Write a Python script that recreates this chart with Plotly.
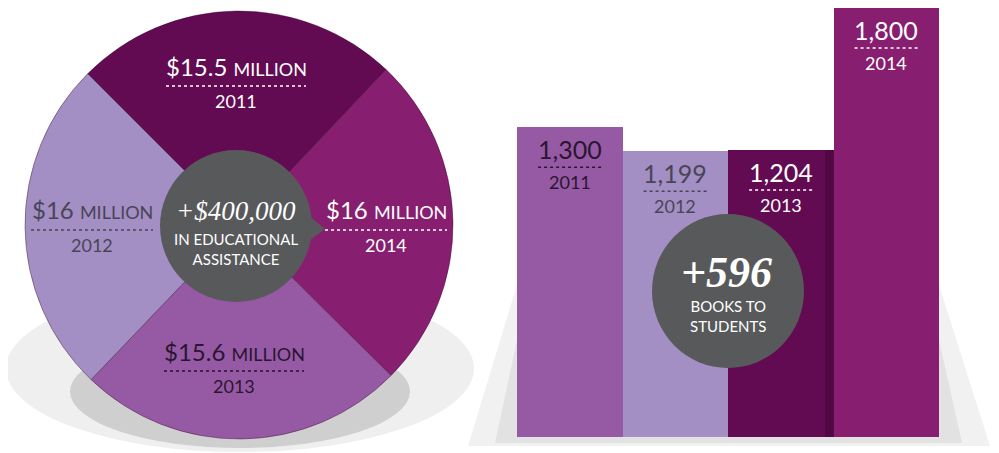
import plotly.graph_objects as go

# the page puts the figure 8px in from the top-left corner
OFF = 8
W, H = 999 - OFF, 453 - OFF

# left: educational assistance per year (millions of dollars), clockwise from the top
aid_years = ['2011', '2014', '2013', '2012']
aid_values = [15.5, 16, 15.6, 16]
aid_total = '+$400,000'

# right: books to students per year
book_years = ['2011', '2012', '2013', '2014']
book_values = [1300, 1199, 1204, 1800]
book_total = '+596'

year_colors = {'2011': '#620A52', '2012': '#A38FC3', '2013': '#965AA5', '2014': '#871E70'}
pie_text_colors = {'2011': 'white', '2012': '#4A4458', '2013': '#2A1630', '2014': 'white'}
book_colors = ['#965AA5', '#A38FC3', '#620A52', '#871E70']
book_text_colors = ['#2A1630', '#4A4458', 'white', 'white']
GRAY = '#58595B'
SANS = 'Lato'
SERIF = 'Liberation Serif'


def px(x):
    return (x - OFF) / W


def py(y):
    return 1 - (y - OFF) / H


fig = go.Figure()

fig.add_trace(go.Pie(
    labels=aid_years,
    values=aid_values,
    sort=False,
    direction='clockwise',
    rotation=-45,
    textinfo='none',
    hoverinfo='label+value',
    marker=dict(colors=[year_colors[y] for y in aid_years],
                line=dict(color='rgba(50,0,40,0.4)', width=1)),
    domain=dict(x=[px(24), px(454)], y=[py(439), py(11)]),
    showlegend=False,
))

fig.add_trace(go.Bar(
    x=book_years,
    y=book_values,
    marker=dict(color=book_colors, line=dict(width=0)),
    width=1,
    hoverinfo='x+y',
    showlegend=False,
))

shapes = []
annotations = []

# shadows under the pie and the bars
shapes.append(dict(type='circle', layer='below', xref='paper', yref='paper',
                   x0=px(6), x1=px(474), y0=py(452), y1=py(285),
                   fillcolor='#EFEFEF', line_width=0))
shapes.append(dict(type='circle', layer='below', xref='paper', yref='paper',
                   x0=px(70), x1=px(410), y0=py(448), y1=py(335),
                   fillcolor='#CFCFCF', line_width=0))
shapes.append(dict(type='path', layer='below', xref='paper', yref='paper',
                   path=f'M {px(468)},{py(446)} L {px(517)},{py(285)} L {px(939)},{py(285)} '
                        f'L {px(990)},{py(446)} Z',
                   fillcolor='#F1F1F1', line_width=0))
shapes.append(dict(type='path', layer='below', xref='paper', yref='paper',
                   path=f'M {px(495)},{py(443)} L {px(517)},{py(340)} L {px(939)},{py(340)} '
                        f'L {px(962)},{py(443)} Z',
                   fillcolor='#E2E2E2', line_width=0))

# shade on the right edge of the 2013 bar
shapes.append(dict(type='rect', xref='x', yref='y', x0=2.42, x1=2.5, y0=0, y1=book_values[2],
                   fillcolor='rgba(30,0,25,0.25)', line_width=0))

# centre bubble of the pie
cx, cy = 236, 226
shapes.append(dict(type='path', xref='paper', yref='paper', xsizemode='pixel', ysizemode='pixel',
                   xanchor=px(cx), yanchor=py(cy),
                   path='M 66,16 L 89,-3 L 66,-20 Z', fillcolor=GRAY, line_width=0))
shapes.append(dict(type='circle', xref='paper', yref='paper', xsizemode='pixel', ysizemode='pixel',
                   xanchor=px(cx), yanchor=py(cy), x0=-76, x1=76, y0=-76, y1=76,
                   fillcolor=GRAY, line_width=0))

# bubble over the bars
bx, by = 728, 291
shapes.append(dict(type='circle', xref='paper', yref='paper', xsizemode='pixel', ysizemode='pixel',
                   xanchor=px(bx), yanchor=py(by), x0=-76, x1=76, y0=-77, y1=77,
                   fillcolor=GRAY, line_width=0))

# pie labels
pie_label_pos = {'2011': (236, 66, 70), '2014': (386, 210, 61),
                 '2013': (234, 351, 70), '2012': (92, 210, 61)}
for yr, val in zip(aid_years, aid_values):
    x, y, half = pie_label_pos[yr]
    col = pie_text_colors[yr]
    amount = f'${val:g}'
    annotations.append(dict(
        x=px(x), y=py(y), xref='paper', yref='paper', showarrow=False,
        text=f"{amount} <span style='font-size:18px'>MILLION</span>",
        font=dict(family=SANS, size=24, color=col), xanchor='center', yanchor='middle'))
    annotations.append(dict(
        x=px(x), y=py(y + 35), xref='paper', yref='paper', showarrow=False,
        text=yr, font=dict(family=SANS, size=18, color=col),
        xanchor='center', yanchor='middle'))
    shapes.append(dict(type='line', xref='paper', yref='paper',
                       x0=px(x - half), x1=px(x + half), y0=py(y + 20), y1=py(y + 20),
                       line=dict(color=col, width=1.5, dash='dot')))

annotations.append(dict(x=px(cx), y=py(211), xref='paper', yref='paper', showarrow=False,
                        text=aid_total,
                        font=dict(family=SERIF, size=27, color='white', style='italic'),
                        xanchor='center', yanchor='middle'))
annotations.append(dict(x=px(cx), y=py(249), xref='paper', yref='paper', showarrow=False,
                        text='IN EDUCATIONAL<br>ASSISTANCE',
                        font=dict(family=SANS, size=15, color='white'),
                        xanchor='center', yanchor='middle'))

# bar labels (category axis positions are category indices)
for i, (yr, val) in enumerate(zip(book_years, book_values)):
    col = book_text_colors[i]
    annotations.append(dict(x=i, y=val, xref='x', yref='y', yshift=-22, showarrow=False,
                            text=f'{val:,}', font=dict(family=SANS, size=25, color=col),
                            xanchor='center', yanchor='middle'))
    annotations.append(dict(x=i, y=val, xref='x', yref='y', yshift=-55, showarrow=False,
                            text=yr, font=dict(family=SANS, size=18, color=col),
                            xanchor='center', yanchor='middle'))
    shapes.append(dict(type='line', xref='x', yref='y', ysizemode='pixel', yanchor=val,
                       x0=i - 0.3, x1=i + 0.3, y0=-40, y1=-40,
                       line=dict(color=col, width=1.5, dash='dot')))

annotations.append(dict(x=px(bx - 2), y=py(272), xref='paper', yref='paper', showarrow=False,
                        text=book_total,
                        font=dict(family=SERIF, size=44, color='white', style='italic', weight='bold'),
                        xanchor='center', yanchor='middle'))
annotations.append(dict(x=px(bx), y=py(316), xref='paper', yref='paper', showarrow=False,
                        text='BOOKS TO<br>STUDENTS',
                        font=dict(family=SANS, size=15, color='white'),
                        xanchor='center', yanchor='middle'))

fig.update_layout(
    width=W,
    height=H,
    margin=dict(l=0, r=0, t=0, b=0),
    paper_bgcolor='white',
    plot_bgcolor='rgba(0,0,0,0)',
    bargap=0,
    xaxis=dict(domain=[px(517), px(939)], range=[-0.5, 3.5], type='category', visible=False),
    yaxis=dict(domain=[py(437), 1], range=[0, 1800], visible=False),
    shapes=shapes,
    annotations=annotations,
)

fig.write_html("out.html")
